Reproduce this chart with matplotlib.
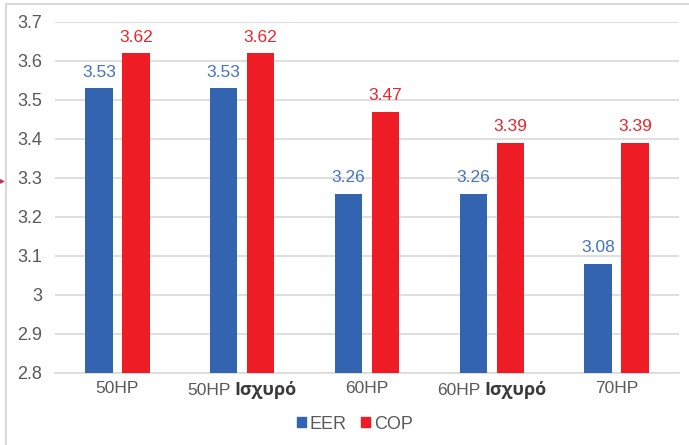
#!/usr/bin/env python3
import matplotlib.pyplot as plt
import numpy as np
from matplotlib.lines import Line2D
from matplotlib.offsetbox import AnnotationBbox, HPacker, TextArea

categories = ["50HP", "50HP", "60HP", "60HP", "70HP"]
suffixes = ["", "Ισχυρό", "", "Ισχυρό", ""]
eer = [3.53, 3.53, 3.26, 3.26, 3.08]
cop = [3.62, 3.62, 3.47, 3.39, 3.39]
yticks = [2.8, 2.9, 3.0, 3.1, 3.2, 3.3, 3.4, 3.5, 3.6, 3.7]
ytick_labels = ["2.8", "2.9", "3", "3.1", "3.2", "3.3", "3.4", "3.5", "3.6", "3.7"]

BLUE = "#3264b0"
RED = "#ee1c25"
BLUE_TXT = "#4472c4"
RED_TXT = "#e8262b"
GREY_TXT = "#595959"


def main() -> None:
    plt.rcParams["font.family"] = ["Liberation Sans", "DejaVu Sans"]

    fig = plt.figure(figsize=(6.89, 4.45), dpi=100)
    ax = fig.add_axes([0.0798, 0.1618, 0.9057, 0.7888])

    x = np.arange(len(categories))
    w = 0.22
    off = 0.148
    b1 = ax.bar(x - off, eer, w, color=BLUE, zorder=3)
    b2 = ax.bar(x + off, cop, w, color=RED, zorder=3)

    for rect, v in zip(b1, eer):
        ax.text(rect.get_x() + rect.get_width() / 2, v + 0.022, f"{v:.2f}",
                ha="center", va="bottom", color=BLUE_TXT, fontsize=12.5)
    for rect, v in zip(b2, cop):
        ax.text(rect.get_x() + rect.get_width() / 2, v + 0.022, f"{v:.2f}",
                ha="center", va="bottom", color=RED_TXT, fontsize=12.5)

    ax.set_xlim(-0.5, len(categories) - 0.5)
    ax.set_ylim(2.8, 3.7)
    ax.set_yticks(yticks)
    ax.set_yticklabels(ytick_labels)
    ax.tick_params(axis="y", length=0, pad=9, labelsize=13, labelcolor=GREY_TXT)
    ax.set_xticks(x)
    ax.set_xticklabels([])
    ax.tick_params(axis="x", length=0)
    ax.grid(axis="y", color="#d9d9d9", linewidth=1.2, zorder=0)
    for side in ("top", "right", "left"):
        ax.spines[side].set_visible(False)
    ax.spines["bottom"].set_color("#d9d9d9")
    ax.spines["bottom"].set_linewidth(1.2)

    # category labels: plain part in grey, Greek suffix in bold
    for xi, cat, suf in zip(x, categories, suffixes):
        parts = [TextArea(cat, textprops=dict(fontsize=12.5, color=GREY_TXT))]
        if suf:
            parts.append(TextArea(suf, textprops=dict(
                fontsize=13, fontweight="bold", color="#3a3a3a",
                family=["Open Sans", "DejaVu Sans"])))
        box = HPacker(children=parts, align="baseline", pad=0, sep=2.5)
        ab = AnnotationBbox(box, (xi, 2.8), xycoords="data",
                            xybox=(0, -6), boxcoords="offset points",
                            box_alignment=(0.5, 1), frameon=False,
                            annotation_clip=False)
        ax.add_artist(ab)

    handles = [plt.Rectangle((0, 0), 1, 1, color=BLUE),
               plt.Rectangle((0, 0), 1, 1, color=RED)]
    fig.legend(handles, ["EER", "COP"], loc="center", bbox_to_anchor=(0.515, 0.047),
               ncol=2, frameon=False, fontsize=13, handlelength=0.5,
               handleheight=0.5, handletextpad=0.2, columnspacing=0.8,
               labelcolor=GREY_TXT)

    # light frame on the top and left edges
    fig.add_artist(Line2D([6 / 689, 6 / 689], [0, 1 - 4 / 445],
                          transform=fig.transFigure, color="#d9d9d9", lw=1.5))
    fig.add_artist(Line2D([6 / 689, 1], [1 - 4 / 445, 1 - 4 / 445],
                          transform=fig.transFigure, color="#d9d9d9", lw=1.5))
    fig.text(0.0, 1 - 180 / 445, "\u25b8", color="#c0304a", fontsize=7,
             ha="left", va="center")

    fig.savefig("out.png", dpi=100)
    plt.close(fig)


if __name__ == "__main__":
    main()
